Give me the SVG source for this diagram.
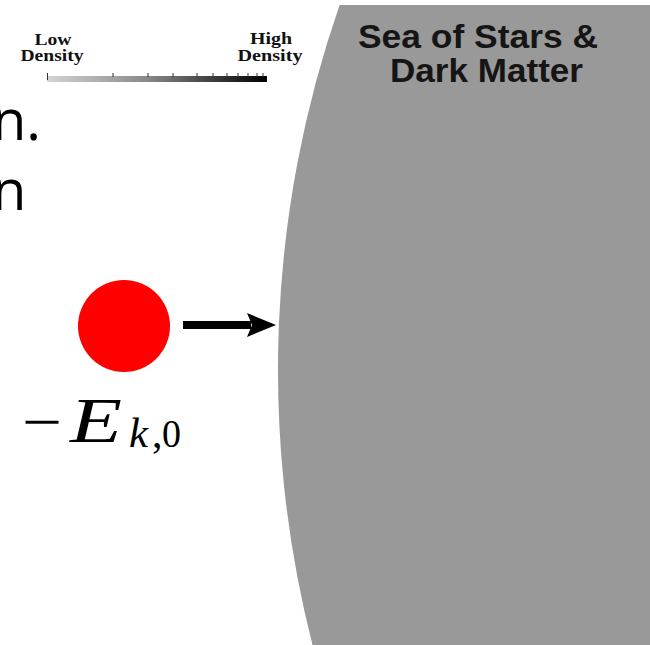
<svg xmlns="http://www.w3.org/2000/svg" width="650" height="645" viewBox="0 0 650 645">
  <defs>
    <linearGradient id="densGrad" x1="0" y1="0" x2="1" y2="0">
      <stop offset="0" stop-color="#d4d4d4"/>
      <stop offset="0.45" stop-color="#8a8a8a"/>
      <stop offset="1" stop-color="#000000"/>
    </linearGradient>
    <style>
      .legend { font-family: "Liberation Serif", "Times New Roman", serif; font-weight: bold; font-size: 16px; fill: #111; text-anchor: middle; }
      .title { font-family: "Liberation Sans", Arial, sans-serif; font-weight: bold; font-size: 33px; fill: #151515; }
      .slide { font-family: "Open Sans", "Noto Sans", sans-serif; font-size: 56px; fill: #000; }
      .math { font-family: "Liberation Serif", "Times New Roman", serif; fill: #000; }
      .tick { stroke: #333; stroke-width: 1; }
    </style>
  </defs>
  <rect width="650" height="645" fill="#ffffff"/>

  <g id="sea">
    <path d="M339.6,5 A1112,1112 0 0 0 312.5,645 L650,645 L650,5 Z" fill="#999999"/>
    <text class="title" x="358" y="48" textLength="240" lengthAdjust="spacingAndGlyphs">Sea of Stars &amp;</text>
    <text class="title" x="390" y="82" textLength="193" lengthAdjust="spacingAndGlyphs">Dark Matter</text>
  </g>

  <g id="slide-text">
    <text class="slide" x="-8" y="140">n.</text>
    <text class="slide" x="-8" y="210">n</text>
  </g>

  <g id="density-scale">
    <text class="legend" x="53" y="45" textLength="37" lengthAdjust="spacingAndGlyphs">Low</text>
    <text class="legend" x="52" y="61" textLength="63" lengthAdjust="spacingAndGlyphs">Density</text>
    <text class="legend" x="271" y="44" textLength="42" lengthAdjust="spacingAndGlyphs">High</text>
    <text class="legend" x="270" y="61" textLength="65" lengthAdjust="spacingAndGlyphs">Density</text>
    <rect x="47" y="76" width="220" height="6" fill="url(#densGrad)"/>
    <line class="tick" x1="47.5" y1="73" x2="47.5" y2="80"/>
    <line class="tick" x1="113" y1="73" x2="113" y2="77"/>
    <line class="tick" x1="148" y1="73" x2="148" y2="77"/>
    <line class="tick" x1="173" y1="73" x2="173" y2="77"/>
    <line class="tick" x1="197" y1="73" x2="197" y2="77"/>
    <line class="tick" x1="213" y1="73" x2="213" y2="77"/>
    <line class="tick" x1="227" y1="73" x2="227" y2="77"/>
    <line class="tick" x1="238" y1="73" x2="238" y2="77"/>
    <line class="tick" x1="248" y1="73" x2="248" y2="77"/>
    <line class="tick" x1="257" y1="73" x2="257" y2="77"/>
    <line class="tick" x1="263" y1="73" x2="263" y2="77"/>
  </g>

  <g id="particle">
    <circle cx="124" cy="326" r="46" fill="#ff0000"/>
  </g>

  <g id="energy-label">
    <text class="math" x="22" y="442" font-size="60" textLength="40" lengthAdjust="spacingAndGlyphs">−</text>
    <text class="math" x="70" y="442" font-size="63" font-style="italic" textLength="52" lengthAdjust="spacingAndGlyphs">E</text>
    <text class="math" x="129" y="447" font-size="42" font-style="italic" textLength="19" lengthAdjust="spacingAndGlyphs">k</text>
    <text class="math" x="152" y="447" font-size="42">,</text>
    <text class="math" x="162" y="447" font-size="40" textLength="19" lengthAdjust="spacingAndGlyphs">0</text>
  </g>

  <g id="connectors">
    <rect x="183" y="321" width="68" height="8" fill="#000"/>
    <polygon points="247,313 276,325 247,337 252,325" fill="#000"/>
  </g>
</svg>
